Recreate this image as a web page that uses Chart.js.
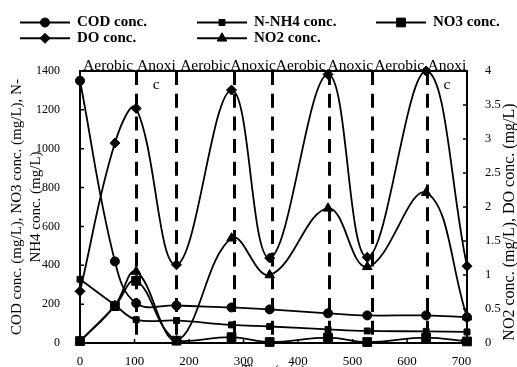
<!DOCTYPE html>
<html>
<head>
<meta charset="utf-8">
<script src="https://cdn.jsdelivr.net/npm/chart.js@4.4.1/dist/chart.umd.min.js"></script>
<style>
  html, body { margin: 0; padding: 0; background: #fff; overflow: hidden; }
  #wrap { width: 517px; height: 367px; overflow: hidden; }
</style>
</head>
<body>
<div id="wrap"><canvas id="chart" width="517" height="384"></canvas></div>
<script>
let times = [0, 64, 103, 177, 278, 348, 455, 527, 635, 710];
let codValues = [1350, 420, 205, 193, 183, 173, 153, 142, 142, 133];
let nh4Values = [328, 195, 120, 116, 93, 85, 70, 62, 60, 57];
let no3Values = [10, 190, 320, 12, 30, 5, 28, 5, 28, 8];
let doValues = [0.76, 2.94, 3.45, 1.15, 3.72, 1.25, 3.95, 1.26, 4.0, 1.13];
let no2Values = [0.02, 0.55, 1.05, 0.03, 1.54, 1.0, 1.98, 1.12, 2.21, 0.38];
let phaseEnds = [103, 177, 282, 353, 457, 535, 636];
let phaseNames = ["Aerobic", "Anoxi\nc", "Aerobic", "Anoxic", "Aerobic", "Anoxic", "Aerobic", "Anoxi\nc"];
let timeTicks = [0, 100, 200, 300, 400, 500, 600, 700];
let leftTicks = [0, 200, 400, 600, 800, 1000, 1200, 1400];
let rightTicks = [0, 0.5, 1, 1.5, 2, 2.5, 3, 3.5, 4];

const serif = "'Liberation Serif', 'Times New Roman', serif";
Chart.defaults.font.family = serif;
Chart.defaults.color = "#000";

function series(values) {
    return times.map((t, i) => ({ x: t, y: values[i] }));
}

const lineStyle = {
    borderColor: "#000",
    backgroundColor: "#000",
    pointBackgroundColor: "#000",
    pointBorderColor: "#000",
    borderWidth: 1.8,
    pointBorderWidth: 1,
    tension: 0.4,
    clip: 8,
};

const decorations = {
    id: "decorations",
    beforeDatasetsDraw(chart) {
        const { ctx, chartArea, scales } = chart;
        ctx.save();
        ctx.beginPath();
        ctx.rect(chartArea.left, chartArea.top, chartArea.right - chartArea.left, chartArea.bottom - chartArea.top);
        ctx.clip();
        ctx.strokeStyle = "#000";
        ctx.lineWidth = 3;
        ctx.setLineDash([14, 8.7]);
        phaseEnds.forEach((t) => {
            const px = Math.round(scales.x.getPixelForValue(t)) + 0.5;
            ctx.beginPath();
            ctx.moveTo(px, chartArea.top);
            ctx.lineTo(px, chartArea.bottom);
            ctx.stroke();
        });
        ctx.restore();
    },
    afterDraw(chart) {
        const { ctx, chartArea, scales } = chart;
        ctx.save();

        // inward tick marks
        ctx.strokeStyle = "#000";
        ctx.lineWidth = 1.5;
        ctx.beginPath();
        scales.x.ticks.forEach((t) => {
            const px = scales.x.getPixelForValue(t.value);
            ctx.moveTo(px, chartArea.bottom);
            ctx.lineTo(px, chartArea.bottom - 4);
        });
        scales.y.ticks.forEach((t) => {
            const py = scales.y.getPixelForValue(t.value);
            ctx.moveTo(chartArea.left, py);
            ctx.lineTo(chartArea.left + 4, py);
        });
        scales.y1.ticks.forEach((t) => {
            const py = scales.y1.getPixelForValue(t.value);
            ctx.moveTo(chartArea.right, py);
            ctx.lineTo(chartArea.right - 4, py);
        });
        ctx.stroke();

        // phase names along the top
        const bounds = [scales.x.min].concat(phaseEnds, [scales.x.max]);
        ctx.fillStyle = "#000";
        ctx.font = "15.5px " + serif;
        ctx.textAlign = "center";
        ctx.textBaseline = "alphabetic";
        phaseNames.forEach((name, i) => {
            const cx = scales.x.getPixelForValue((bounds[i] + bounds[i + 1]) / 2);
            name.split("\n").forEach((line, j) => {
                ctx.fillText(line, cx, chartArea.top - 1.5 + j * 19);
            });
        });

        // right axis title (reads bottom to top)
        ctx.save();
        ctx.translate(510, 222);
        ctx.rotate(-Math.PI / 2);
        ctx.font = "16px " + serif;
        ctx.textBaseline = "middle";
        ctx.fillText("NO2 conc. (mg/L), DO conc. (mg/L)", 0, 0);
        ctx.restore();

        // legend, three columns
        const cols = [20, 197, 376];
        const rows = [22.5, 38.3];
        ctx.font = "bold 15px " + serif;
        ctx.textAlign = "left";
        ctx.textBaseline = "middle";
        chart.data.datasets.forEach((ds, i) => {
            const x0 = cols[i % 3];
            const y0 = rows[Math.floor(i / 3)];
            ctx.strokeStyle = "#000";
            ctx.lineWidth = 2;
            ctx.beginPath();
            ctx.moveTo(x0, y0);
            ctx.lineTo(x0 + 50, y0);
            ctx.stroke();
            ctx.fillStyle = "#000";
            ctx.lineWidth = 1;
            Chart.helpers.drawPoint(ctx, { pointStyle: ds.pointStyle, radius: ds.pointRadius, rotation: 0, borderWidth: 1 }, x0 + 25, y0);
            ctx.fillText(ds.label, x0 + 57, y0);
        });
        ctx.restore();
    },
};

new Chart(document.getElementById("chart"), {
    type: "line",
    data: {
        datasets: [
            { ...lineStyle, label: "COD conc.", data: series(codValues), yAxisID: "y", pointStyle: "circle", pointRadius: 4.5 },
            { ...lineStyle, label: "N-NH4 conc.", data: series(nh4Values), yAxisID: "y", pointStyle: "rect", pointRadius: 4.2 },
            { ...lineStyle, label: "NO3 conc.", data: series(no3Values), yAxisID: "y", pointStyle: "rect", pointRadius: 6.2 },
            { ...lineStyle, label: "DO conc.", data: series(doValues), yAxisID: "y1", pointStyle: "rectRot", pointRadius: 5 },
            { ...lineStyle, label: "NO2 conc.", data: series(no2Values), yAxisID: "y1", pointStyle: "triangle", pointRadius: 5.5 },
        ],
    },
    options: {
        responsive: false,
        animation: false,
        layout: { padding: 0 },
        plugins: {
            legend: { display: false },
            tooltip: { enabled: false },
        },
        scales: {
            x: {
                type: "linear",
                position: "bottom",
                min: 0,
                max: 710,
                afterBuildTicks: (s) => { s.ticks = timeTicks.map((v) => ({ value: v })); },
                afterFit: (s) => { s.height = 41; },
                ticks: { font: { size: 13 }, padding: 3, color: "#000", callback: (v) => v },
                grid: { display: false },
                border: { display: true, color: "#000", width: 2 },
                title: { display: true, text: "Time (min)", font: { size: 14 }, padding: { top: 0, bottom: 4 } },
            },
            xTop: {
                type: "linear",
                position: "top",
                min: 0,
                max: 710,
                afterFit: (s) => { s.height = 71; },
                ticks: { display: false },
                grid: { display: false },
                border: { display: true, color: "#000", width: 2 },
            },
            y: {
                position: "left",
                min: 0,
                max: 1400,
                afterBuildTicks: (s) => { s.ticks = leftTicks.map((v) => ({ value: v })); },
                afterFit: (s) => { s.width = 80; },
                ticks: { font: { size: 12 }, padding: 12, color: "#000", callback: (v) => v },
                grid: { display: false },
                border: { display: true, color: "#000", width: 2 },
                title: {
                    display: true,
                    text: ["COD conc. (mg/L), NO3 conc. (mg/L), N-", "NH4 conc. (mg/L)"],
                    font: { size: 15, lineHeight: 19 / 15 },
                    padding: { top: 8, bottom: 0 },
                },
            },
            y1: {
                position: "right",
                min: 0,
                max: 4,
                afterBuildTicks: (s) => { s.ticks = rightTicks.map((v) => ({ value: v })); },
                afterFit: (s) => { s.width = 50; },
                ticks: { font: { size: 12.5 }, padding: 10, color: "#000", callback: (v) => String(v) },
                grid: { display: false },
                border: { display: true, color: "#000", width: 2 },
            },
        },
    },
    plugins: [decorations],
});
</script>
</body>
</html>
